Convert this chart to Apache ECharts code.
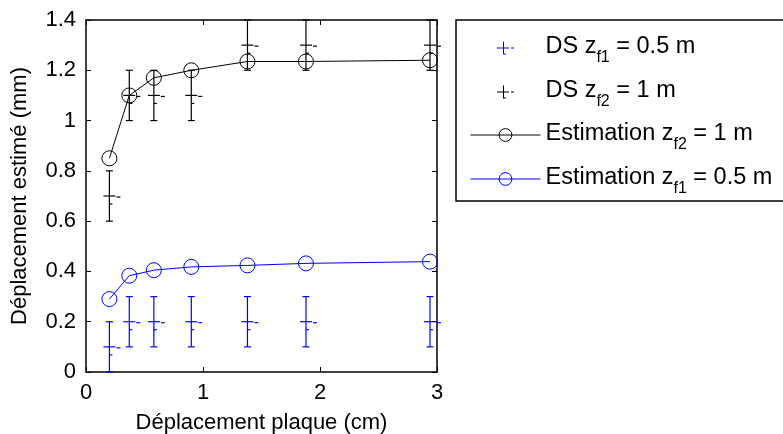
<!DOCTYPE html>
<html>
<head>
<meta charset="UTF-8">
<title></title>
<style>html,body{margin:0;padding:0;background:#fff;}#charts{width:783px;height:434px;}</style>
</head>
<body>
<div id="charts"></div>
<script src="https://cdn.jsdelivr.net/npm/echarts@6/dist/echarts.min.js"></script>
<script>
// abscisses (déplacement plaque, cm)
var xPos = [0.2, 0.37, 0.58, 0.9, 1.38, 1.88, 2.94];
// DS mesurés + demi-barre d'erreur
var dsZf1 = [0.1, 0.2, 0.2, 0.2, 0.2, 0.2, 0.2];
var dsZf2 = [0.7, 1.1, 1.1, 1.1, 1.3, 1.3, 1.3];
var errDs = [0.1, 0.1, 0.1, 0.1, 0.1, 0.1, 0.1];
// estimations
var estZf2 = [0.85, 1.10, 1.17, 1.20, 1.235, 1.235, 1.24];
var estZf1 = [0.29, 0.383, 0.405, 0.418, 0.424, 0.432, 0.439];
var xTicks = [0, 1, 2, 3];
var yTicks = [0, 0.2, 0.4, 0.6, 0.8, 1, 1.2, 1.4];

var FONT = 'Liberation Sans, Arial, Helvetica, sans-serif';
var BLUE = '#0000ff';

var mycharts = echarts.init(document.getElementById('charts'));

function errData(vals, err) {
    return xPos.map(function (x, i) { return [x, vals[i], vals[i] - err[i], vals[i] + err[i]]; });
}
function lineData(vals) {
    return xPos.map(function (x, i) { return [x, vals[i]]; });
}

// barre d'erreur + marqueur '+' façon matlab
function renderErr(params, api) {
    var c = api.coord([api.value(0), api.value(1)]);
    var lo = api.coord([api.value(0), api.value(2)]);
    var hi = api.coord([api.value(0), api.value(3)]);
    var col = api.visual('color');
    var seg = function (x1, y1, x2, y2) {
        return {type: 'line', shape: {x1: x1, y1: y1, x2: x2, y2: y2}, style: {stroke: col, lineWidth: 1.2}};
    };
    var x = c[0], y = c[1];
    return {type: 'group', children: [
        seg(x, lo[1], x, hi[1]),
        seg(x - 3.5, lo[1], x + 3.5, lo[1]),
        seg(x - 3.5, hi[1], x + 3.5, hi[1]),
        seg(x - 6, y, x + 6, y),
        seg(x + 7, y + 1, x + 11, y + 1),
        seg(x, y + 8, x + 3, y + 8)
    ]};
}

var labels = {
    'DS zf1': '{n|DS z}{s|f1}{n| = 0.5 m}',
    'DS zf2': '{n|DS z}{s|f2}{n| = 1 m}',
    'Estimation zf2': '{n|Estimation z}{s|f2}{n| = 1 m}',
    'Estimation zf1': '{n|Estimation z}{s|f1}{n| = 0.5 m}'
};
var crossIcon = 'path://M0,6h12v1h-12z M6,0h1v13h-1z M14,6h3v1h-3z M6,12h3v1h-3z';

function mkLegend(name, left, top, icon) {
    var item = {name: name};
    if (icon) item.icon = icon;
    return {
        data: [item],
        left: left, top: top, padding: 0,
        itemWidth: 70, itemHeight: icon ? 13 : 16,
        selectedMode: false,
        lineStyle: {width: 1},
        itemStyle: {borderWidth: 1},
        formatter: function (n) { return labels[n]; },
        textStyle: {
            color: '#000', fontFamily: FONT, fontSize: 23.5,
            rich: {
                n: {fontFamily: FONT, fontSize: 23.5, color: '#000', lineHeight: 26, verticalAlign: 'top'},
                s: {fontFamily: FONT, fontSize: 16, color: '#000', lineHeight: 16, padding: [15, 0, 0, 0], verticalAlign: 'top'}
            }
        }
    };
}

var axisLine = {onZero: false, lineStyle: {color: '#000', width: 1.5}};
var axisTick = {inside: true, length: 5, lineStyle: {color: '#000', width: 1}};

option = {
    backgroundColor: '#fff',
    animation: false,
    grid: {left: 86, top: 20, width: 351, height: 352, outerBoundsMode: 'none', containLabel: false},
    graphic: [{
        type: 'rect', z: -1,
        shape: {x: 456, y: 20, width: 340, height: 181},
        style: {fill: '#fff', stroke: '#000', lineWidth: 1.5}
    }],
    legend: [
        mkLegend('DS zf1', 497, 35, crossIcon),
        mkLegend('DS zf2', 497, 79, crossIcon),
        mkLegend('Estimation zf2', 470, 122),
        mkLegend('Estimation zf1', 470, 166)
    ],
    xAxis: [{
        type: 'value', min: xTicks[0], max: xTicks[xTicks.length - 1], interval: 1,
        position: 'bottom',
        axisLine: axisLine, axisTick: axisTick, splitLine: {show: false},
        axisLabel: {color: '#000', fontFamily: FONT, fontSize: 22, margin: 10},
        name: 'Déplacement plaque (cm)', nameLocation: 'middle', nameGap: 40,
        nameTextStyle: {color: '#000', fontFamily: FONT, fontSize: 22}
    }, {
        type: 'value', min: xTicks[0], max: xTicks[xTicks.length - 1], interval: 1,
        position: 'top',
        axisLine: axisLine, axisTick: axisTick, splitLine: {show: false},
        axisLabel: {show: false}
    }],
    yAxis: [{
        type: 'value', min: yTicks[0], max: yTicks[yTicks.length - 1], interval: 0.2,
        position: 'left',
        axisLine: axisLine, axisTick: axisTick, splitLine: {show: false},
        axisLabel: {color: '#000', fontFamily: FONT, fontSize: 22, margin: 10},
        name: 'Déplacement estimé (mm)', nameLocation: 'middle', nameGap: 55,
        nameTextStyle: {color: '#000', fontFamily: FONT, fontSize: 22}
    }, {
        type: 'value', min: yTicks[0], max: yTicks[yTicks.length - 1], interval: 0.2,
        position: 'right',
        axisLine: axisLine, axisTick: axisTick, splitLine: {show: false},
        axisLabel: {show: false}
    }],
    series: [
        {
            name: 'DS zf1', type: 'custom', renderItem: renderErr,
            itemStyle: {color: BLUE},
            encode: {x: 0, y: [1, 2, 3]},
            data: errData(dsZf1, errDs), z: 3
        },
        {
            name: 'DS zf2', type: 'custom', renderItem: renderErr,
            itemStyle: {color: '#000'},
            encode: {x: 0, y: [1, 2, 3]},
            data: errData(dsZf2, errDs), z: 3
        },
        {
            name: 'Estimation zf2', type: 'line',
            data: lineData(estZf2),
            symbol: 'circle', symbolSize: 15,
            itemStyle: {color: 'rgba(0,0,0,0)', borderColor: '#000', borderWidth: 1},
            lineStyle: {color: '#000', width: 1},
            emphasis: {disabled: true}, z: 4
        },
        {
            name: 'Estimation zf1', type: 'line',
            data: lineData(estZf1),
            symbol: 'circle', symbolSize: 15,
            itemStyle: {color: 'rgba(0,0,0,0)', borderColor: BLUE, borderWidth: 1},
            lineStyle: {color: BLUE, width: 1},
            emphasis: {disabled: true}, z: 4
        }
    ]
};
mycharts.setOption(option);
</script>
</body>
</html>
